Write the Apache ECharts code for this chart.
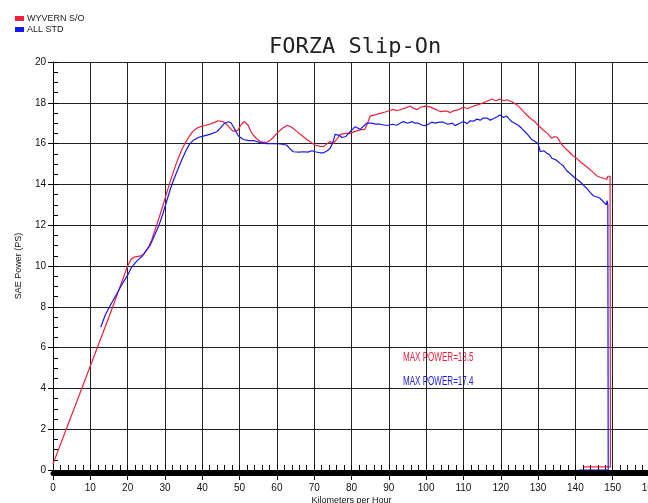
<!DOCTYPE html>
<html>
<head>
<meta charset="utf-8">
<script src="https://cdn.jsdelivr.net/npm/echarts@6/dist/echarts.min.js"></script>
<style>
  html, body { margin: 0; padding: 0; background: #fff; }
  #main { width: 648px; height: 503px; }
</style>
</head>
<body>
<div id="main"></div>
<script>
// series names / annotation text
var seriesNames = ['WYVERN S/O', 'ALL STD'];
var maxPowerRed = '18.5';
var maxPowerBlue = '17.4';

// WYVERN S/O : km/h , PS
var redSpeed = [0,5,10,15,19,20,21,22,23.5,24.5,25.5,26.5,27.5,28.5,29.5,30.5,31.5,32.5,33.5,34.5,35.5,36.5,37.5,38.5,39.5,41,42.5,44.3,45.5,46.5,47.5,48.3,49.5,50.5,51.3,52.3,53.3,54.5,55.5,57.3,58.5,60,61.5,62.8,64,65.3,66.7,68,69.2,70.2,71.5,72.5,73.5,74.3,75.1,76,77,78.5,79.6,81,82.3,83.6,84.3,85,86.5,87.7,89,90,91.2,92,93,94.5,95.7,96.5,97.5,98.5,99.7,101,102.5,103.8,105.5,106.5,107.3,108.5,110,111.2,112.7,114.5,116,117.6,118.7,119.8,120.8,121.6,123,124.3,125.2,126.1,127,127.9,129,130,131.4,132.5,133.7,134.5,135.2,136,136.8,138,139.1,140.2,141.3,142.4,143.5,144.7,145.8,146.6,147.5,148.4,148.7,149.3,149.4,142.2];
var redPower = [0.3,2.7,5.1,7.5,9.5,10.0,10.35,10.45,10.5,10.6,10.9,11.3,11.85,12.4,13.0,13.6,14.2,14.75,15.25,15.7,16.05,16.35,16.6,16.75,16.83,16.9,16.98,17.12,17.08,16.95,16.75,16.6,16.65,16.95,17.08,16.9,16.5,16.25,16.1,16.05,16.2,16.5,16.75,16.9,16.8,16.6,16.4,16.2,16.05,15.93,15.88,15.85,16.0,16.1,16.0,16.2,16.45,16.5,16.5,16.6,16.67,16.7,17.0,17.35,17.42,17.48,17.55,17.61,17.68,17.62,17.66,17.75,17.84,17.75,17.66,17.78,17.84,17.8,17.68,17.57,17.6,17.52,17.6,17.65,17.78,17.72,17.84,17.94,18.05,18.19,18.1,18.18,18.1,18.15,18.05,17.9,17.75,17.57,17.4,17.24,17.1,16.9,16.67,16.5,16.26,16.35,16.3,16.05,15.85,15.65,15.44,15.3,15.11,14.95,14.79,14.6,14.41,14.35,14.3,14.25,14.4,14.4,0.15,0.15];

// ALL STD : km/h , PS
var blueSpeed = [12.8,14,15.3,17,18.8,20,21.1,22.5,24,24.7,26,27.2,28.5,29.5,30.5,31.5,32.5,33.5,34.5,35.5,36.5,37.5,38.9,40.5,42,43.9,45,46,47,47.7,48.3,49,49.7,51,52.5,53.7,55.5,57.3,59,60.9,62.6,63.5,64.4,66,67.1,68.3,69.4,70.2,71.5,72.5,73.5,74.3,75.1,75.6,76,76.8,77.4,78.5,79.2,80,81,82.3,83.2,84.1,85.5,86.5,87.7,89,90,91,92.1,93,93.9,95,96.2,97,97.9,99,99.7,100.6,101.5,102.5,103.5,104.6,105.8,107,107.8,109,110,111,111.8,112.7,113.6,114.5,115.3,116.3,117.2,118,118.9,119.8,120.7,121.6,122.3,123,124.7,125.6,126.5,127.4,128.3,129.2,130,130.6,131.5,132.4,133.1,133.7,134.8,135.9,136.8,137.7,138.8,140,141.3,142.2,143.1,144,144.9,145.8,146.6,147.5,148,148.3,148.5,148.7,148.8,141];
var bluePower = [7.0,7.6,8.05,8.6,9.2,9.55,9.95,10.25,10.5,10.7,11.0,11.5,12.05,12.6,13.2,13.8,14.3,14.75,15.2,15.6,15.95,16.15,16.3,16.38,16.45,16.58,16.8,17.0,17.07,17.02,16.84,16.6,16.37,16.2,16.15,16.15,16.05,16.0,16.0,15.98,15.93,15.75,15.6,15.58,15.6,15.58,15.65,15.6,15.55,15.55,15.65,15.77,16.1,16.45,16.5,16.4,16.3,16.35,16.5,16.65,16.83,16.7,16.85,17.0,17.0,16.95,16.95,16.9,16.9,16.95,16.9,17.0,17.08,17.0,17.08,17.0,17.0,16.9,16.88,16.95,17.05,17.0,17.05,17.05,16.95,17.0,16.88,17.0,17.08,16.98,17.12,17.1,17.2,17.15,17.25,17.25,17.15,17.22,17.3,17.4,17.28,17.35,17.2,17.07,16.9,16.75,16.58,16.4,16.2,16.1,16.0,15.6,15.65,15.52,15.45,15.28,15.2,15.03,14.9,14.67,14.5,14.3,14.13,13.95,13.8,13.6,13.43,13.38,13.32,13.15,13.2,13.0,13.2,13.0,0,0];

function pairs(xs, ys) {
  var out = [];
  for (var i = 0; i < xs.length; i++) out.push([xs[i], ys[i]]);
  return out;
}

var labelFont = "'Liberation Sans', sans-serif";
var myChart = echarts.init(document.getElementById('main'));

var option = {
  animation: false,
  backgroundColor: '#fff',
  title: {
    text: 'FORZA Slip-On',
    left: 264, top: 31,
    textStyle: { fontFamily: 'DejaVu Sans Mono', fontSize: 22, fontWeight: 'normal', color: '#222' }
  },
  legend: {
    data: seriesNames,
    orient: 'vertical', left: 10, top: 9,
    icon: 'rect', itemWidth: 9, itemHeight: 5, itemGap: 2,
    textStyle: { fontFamily: labelFont, fontSize: 9, color: '#222', padding: [0, 0, 0, -2] }
  },
  grid: { left: 53, top: 62, width: 597, height: 408, outerBoundsMode: 'none', containLabel: false },
  xAxis: [{
    type: 'value', min: 0, max: 160, interval: 10,
    name: 'Kilometers per Hour', nameLocation: 'middle', nameGap: 26, nameMoveOverlap: false,
    nameTextStyle: { fontFamily: labelFont, fontSize: 9, color: '#111' },
    axisLine: { lineStyle: { color: '#000', width: 1 } },
    axisTick: { length: 10, lineStyle: { color: '#000' } },
    axisLabel: { fontFamily: labelFont, fontSize: 10, color: '#111', margin: 13 },
    splitLine: { lineStyle: { color: '#222', width: 1 } }
  }, {
    type: 'value', min: 0, max: 160, interval: 2, position: 'bottom',
    axisLine: { show: false },
    axisTick: { inside: true, length: 5, lineStyle: { color: '#000' } },
    axisLabel: { show: false }, splitLine: { show: false }
  }, {
    type: 'value', min: 0, max: 160, position: 'bottom', offset: 3,
    axisLine: { lineStyle: { color: '#000', width: 5 } },
    axisTick: { show: false }, axisLabel: { show: false }, splitLine: { show: false }
  }],
  yAxis: [{
    type: 'value', min: 0, max: 20, interval: 2,
    name: 'SAE Power (PS)', nameLocation: 'middle', nameGap: 30, nameMoveOverlap: false,
    nameTextStyle: { fontFamily: labelFont, fontSize: 9, color: '#111' },
    axisLine: { show: true, lineStyle: { color: '#000' } },
    axisTick: { show: true, length: 5, lineStyle: { color: '#000' } },
    axisLabel: { fontFamily: labelFont, fontSize: 10, color: '#111', margin: 7 },
    splitLine: { lineStyle: { color: '#222', width: 1 } }
  }, {
    type: 'value', min: 0, max: 20, interval: 0.5, position: 'left',
    axisLine: { show: false },
    axisTick: { show: true, inside: true, length: 5, lineStyle: { color: '#000' } },
    axisLabel: { show: false }, splitLine: { show: false }
  }],
  graphic: [{
    type: 'text', x: 403, y: 351, scaleX: 0.62,
    style: { text: 'MAX POWER=' + maxPowerRed, fill: '#f0203c', font: '13px ' + labelFont }
  }, {
    type: 'text', x: 403, y: 375, scaleX: 0.62,
    style: { text: 'MAX POWER=' + maxPowerBlue, fill: '#1818ee', font: '13px ' + labelFont }
  }],
  series: [{
    name: seriesNames[0], type: 'line',
    data: pairs(redSpeed, redPower),
    symbol: 'none', smooth: false,
    itemStyle: { color: '#f0203c' },
    lineStyle: { color: '#f0203c', width: 1.2 }
  }, {
    name: seriesNames[1], type: 'line',
    data: pairs(blueSpeed, bluePower),
    symbol: 'none', smooth: false,
    itemStyle: { color: '#1818ee' },
    lineStyle: { color: '#1818ee', width: 1.2 }
  }]
};
myChart.setOption(option);
</script>
</body>
</html>
